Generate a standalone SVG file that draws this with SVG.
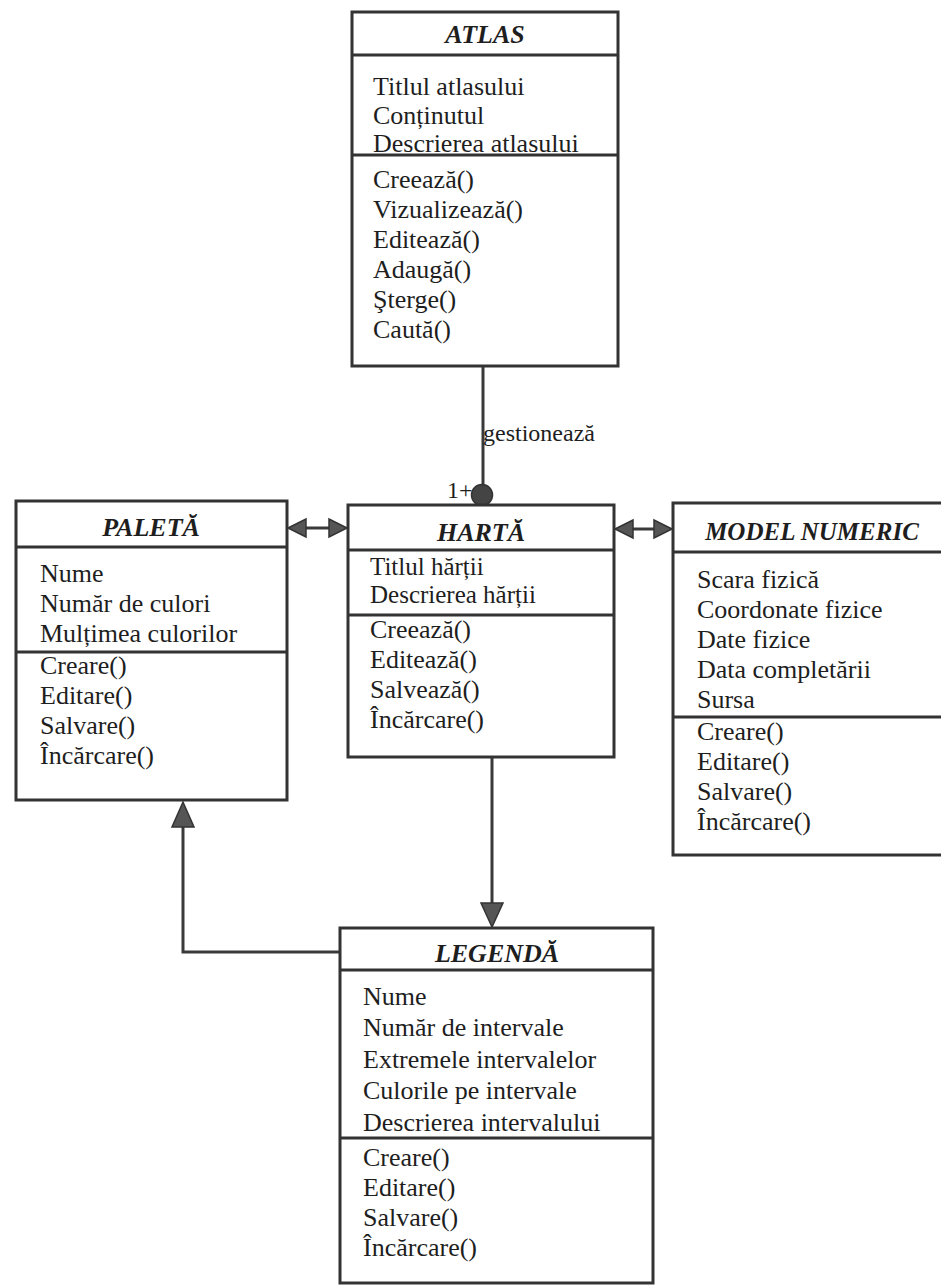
<svg xmlns="http://www.w3.org/2000/svg" width="941" height="1285" viewBox="0 0 941 1285">
<style>
.box{fill:#ffffff;stroke:#333333;stroke-width:3}
.div{stroke:#333333;stroke-width:3}
.t{font-family:"Liberation Serif","Times New Roman",serif;font-size:26px;fill:#1e1e1e}
.title{font-family:"Liberation Serif","Times New Roman",serif;font-size:26px;font-style:italic;font-weight:bold;fill:#1e1e1e;text-anchor:middle}
.lbl{font-family:"Liberation Serif","Times New Roman",serif;font-size:24px;fill:#1e1e1e}
.con{stroke:#3a3a3a;stroke-width:3;fill:none}
.head{fill:#555555;stroke:#333333;stroke-width:1.5}
</style>
<rect x="0" y="0" width="941" height="1285" fill="#ffffff"/>

<g id="connectors">
  <line class="con" x1="483" y1="366" x2="483" y2="490"/>
  <circle cx="482" cy="495" r="10.5" fill="#444444" stroke="#333333" stroke-width="1.5"/>
  <text class="lbl" x="483" y="441">gestionează</text>
  <text class="lbl" x="447" y="498">1+</text>
  <line class="con" x1="300" y1="528" x2="334" y2="528"/>
  <polygon class="head" points="288,528 306,519 306,537"/>
  <polygon class="head" points="347,528 329,519 329,537"/>
  <line class="con" x1="628" y1="529" x2="660" y2="529"/>
  <polygon class="head" points="615,529 633,520 633,538"/>
  <polygon class="head" points="672,529 654,520 654,538"/>
  <line class="con" x1="492" y1="757" x2="492" y2="905"/>
  <polygon class="head" points="492,927 481,903 503,903"/>
  <polyline class="con" points="340,952 183,952 183,825"/>
  <polygon class="head" points="183,802 172,827 194,827"/>
</g>

<g id="atlas">
  <rect class="box" x="352" y="12" width="266" height="354"/>
  <line class="div" x1="352" y1="55" x2="618" y2="55"/>
  <line class="div" x1="352" y1="155" x2="618" y2="155"/>
  <text class="title" x="485" y="43">ATLAS</text>
  <text class="t" x="373" y="95">Titlul atlasului</text>
  <text class="t" x="373" y="124">Conținutul</text>
  <text class="t" x="373" y="152">Descrierea atlasului</text>
  <text class="t" x="373" y="188">Creează()</text>
  <text class="t" x="373" y="218">Vizualizează()</text>
  <text class="t" x="373" y="248">Editează()</text>
  <text class="t" x="373" y="278">Adaugă()</text>
  <text class="t" x="373" y="308">Şterge()</text>
  <text class="t" x="373" y="338">Caută()</text>
</g>

<g id="paleta">
  <rect class="box" x="16" y="501" width="271" height="299"/>
  <line class="div" x1="16" y1="547" x2="287" y2="547"/>
  <line class="div" x1="16" y1="652" x2="287" y2="652"/>
  <text class="title" x="151" y="536">PALETĂ</text>
  <text class="t" x="40" y="582">Nume</text>
  <text class="t" x="40" y="612">Număr de culori</text>
  <text class="t" x="40" y="642">Mulțimea culorilor</text>
  <text class="t" x="40" y="674">Creare()</text>
  <text class="t" x="40" y="704">Editare()</text>
  <text class="t" x="40" y="734">Salvare()</text>
  <text class="t" x="40" y="764">Încărcare()</text>
</g>

<g id="harta">
  <rect class="box" x="348" y="505" width="266" height="252"/>
  <line class="div" x1="348" y1="550" x2="614" y2="550"/>
  <line class="div" x1="348" y1="615" x2="614" y2="615"/>
  <text class="title" x="481" y="541">HARTĂ</text>
  <text class="t" x="370" y="575" style="font-size:25px">Titlul hărții</text>
  <text class="t" x="370" y="603" style="font-size:25px">Descrierea hărții</text>
  <text class="t" x="370" y="638">Creează()</text>
  <text class="t" x="370" y="668">Editează()</text>
  <text class="t" x="370" y="698">Salvează()</text>
  <text class="t" x="370" y="728">Încărcare()</text>
</g>

<g id="model-numeric">
  <rect class="box" x="673" y="503" width="290" height="352"/>
  <line class="div" x1="673" y1="552" x2="941" y2="552"/>
  <line class="div" x1="673" y1="717" x2="941" y2="717"/>
  <text class="title" x="812" y="540" style="font-size:25px">MODEL NUMERIC</text>
  <text class="t" x="697" y="588">Scara fizică</text>
  <text class="t" x="697" y="618">Coordonate fizice</text>
  <text class="t" x="697" y="648">Date fizice</text>
  <text class="t" x="697" y="678">Data completării</text>
  <text class="t" x="697" y="708">Sursa</text>
  <text class="t" x="697" y="740">Creare()</text>
  <text class="t" x="697" y="770">Editare()</text>
  <text class="t" x="697" y="800">Salvare()</text>
  <text class="t" x="697" y="830">Încărcare()</text>
</g>

<g id="legenda">
  <rect class="box" x="340" y="928" width="313" height="355"/>
  <line class="div" x1="340" y1="970" x2="653" y2="970"/>
  <line class="div" x1="340" y1="1138" x2="653" y2="1138"/>
  <text class="title" x="497" y="962">LEGENDĂ</text>
  <text class="t" x="363" y="1005">Nume</text>
  <text class="t" x="363" y="1036">Număr de intervale</text>
  <text class="t" x="363" y="1068">Extremele intervalelor</text>
  <text class="t" x="363" y="1099">Culorile pe intervale</text>
  <text class="t" x="363" y="1131">Descrierea intervalului</text>
  <text class="t" x="363" y="1166">Creare()</text>
  <text class="t" x="363" y="1196">Editare()</text>
  <text class="t" x="363" y="1226">Salvare()</text>
  <text class="t" x="363" y="1256">Încărcare()</text>
</g>
</svg>
